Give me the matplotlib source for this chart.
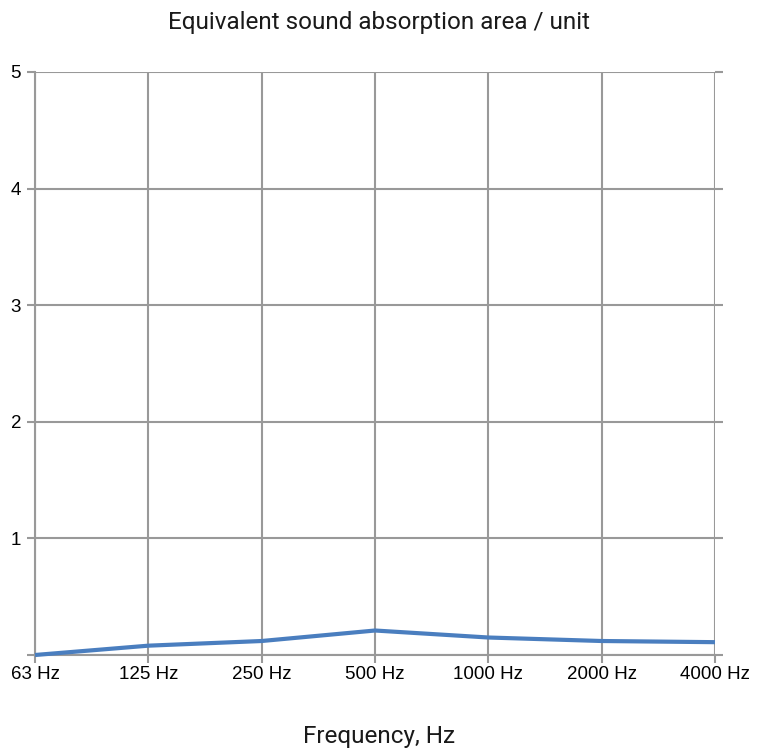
import numpy as np
from matplotlib import pyplot as plt

# data
freqs = ['63 Hz', '125 Hz', '250 Hz', '500 Hz', '1000 Hz', '2000 Hz', '4000 Hz']
area = [0.0, 0.08, 0.12, 0.21, 0.15, 0.12, 0.11]
y_ticks = [0, 1, 2, 3, 4, 5]
y_labels = ['', '1', '2', '3', '4', '5']

fig = plt.figure(figsize=(7.58, 7.51), dpi=100)
ax = fig.add_axes([35/758, 1-655/751, 680/758, 583/751])

x = np.arange(len(freqs))
ax.plot(x, area, color='#4a7ebf', linewidth=3, solid_capstyle='butt', zorder=3, clip_on=False)

ax.set_xlim(0, len(freqs) - 1)
ax.set_ylim(0, 5)
ax.set_xticks(x)
ax.set_xticklabels(freqs, fontsize=13.5, family='Liberation Sans')
ax.set_yticks(y_ticks)
ax.set_yticklabels(y_labels, fontsize=13.5, family='Liberation Sans')

# grid + ticks in grey
ax.grid(True, color='#999999', linewidth=1.5)
ax.tick_params(axis='both', color='#999999', width=1.5, length=6, direction='out')
ax.tick_params(axis='y', right=True, labelright=False, pad=4)
ax.tick_params(axis='x', pad=2)
for s in ax.spines.values():
    s.set_visible(False)
ax.spines['left'].set_visible(True)
ax.spines['bottom'].set_visible(True)
ax.spines['left'].set_color('#999999')
ax.spines['bottom'].set_color('#999999')
ax.spines['left'].set_linewidth(1.5)
ax.spines['bottom'].set_linewidth(1.5)

fig.text(0.5, 1-23/751, 'Equivalent sound absorption area / unit', ha='center', va='center',
         fontsize=17.5, family='Roboto', color='#1a1a1a')
fig.text(0.5, 1-737/751, 'Frequency, Hz', ha='center', va='center',
         fontsize=17.5, family='Roboto', color='#1a1a1a')

plt.savefig('out.png', dpi=100)
